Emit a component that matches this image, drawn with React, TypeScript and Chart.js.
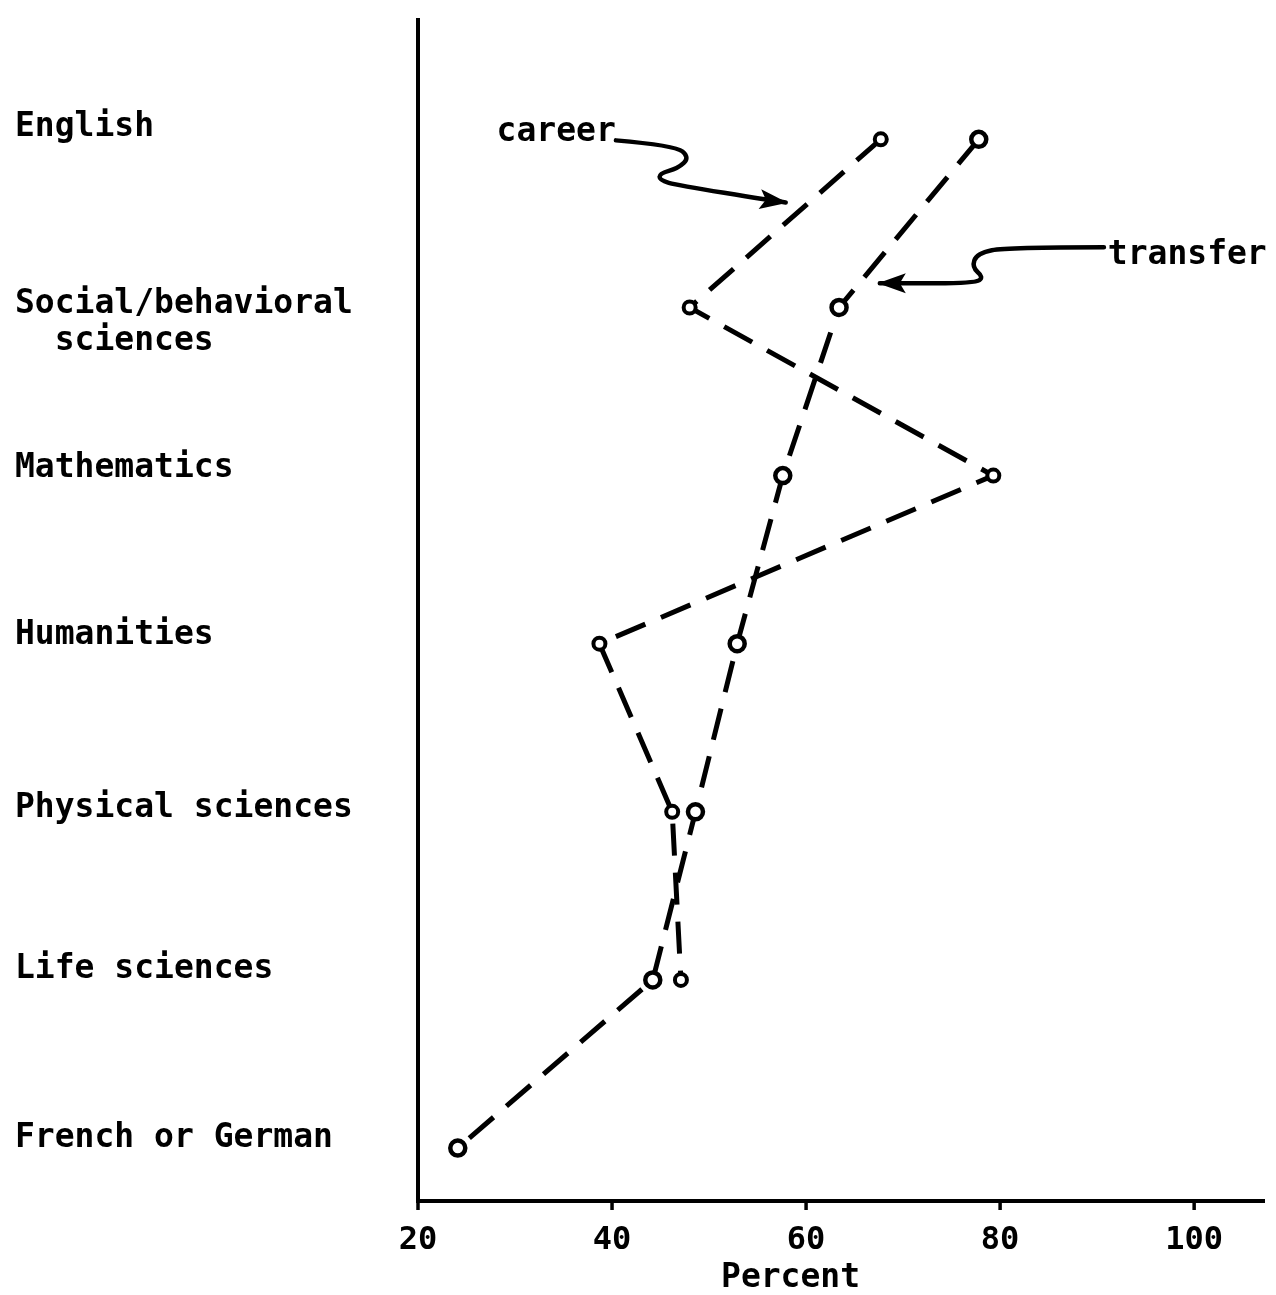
import React, { useEffect, useRef } from 'react';
import { Chart, registerables } from 'chart.js';

Chart.register(...registerables);

// ---- data ----
const CATEGORIES: (string | string[])[] = [
  'English',
  ['Social/behavioral', '  sciences'],
  'Mathematics',
  'Humanities',
  'Physical sciences',
  'Life sciences',
  'French or German',
];
const CAREER: (number | null)[] = [67.7, 48.0, 79.3, 38.7, 46.2, 47.1, null];
const TRANSFER: (number | null)[] = [77.8, 63.4, 57.6, 52.9, 48.6, 44.2, 24.1];
const X_TICKS = [20, 40, 60, 80, 100];
const X_TITLE = 'Percent';

// ---- layout / annotation config (data units) ----
const LABEL_SHIFT = [-0.07, 0.09, -0.04, -0.05, -0.02, -0.06, -0.06];
const ANNOTATIONS = [
  {
    text: 'career',
    at: [28.1, -0.042],
    path: [[40.4, 0.006], [46.5, 0.036], [48.0, 0.107], [46.8, 0.172], [44.9, 0.202], [44.9, 0.244], [46.8, 0.273], [56.3, 0.363], [57.9, 0.375]],
  },
  {
    text: 'transfer',
    at: [91.1, 0.69],
    path: [[90.7, 0.642], [80.7, 0.642], [77.6, 0.678], [77.1, 0.761], [78.3, 0.82], [77.4, 0.856], [69.4, 0.856], [67.6, 0.856]],
  },
];

const FONT = '"DejaVu Sans Mono", "Liberation Mono", monospace';

const toPoints = (vals: (number | null)[]) =>
  vals.map((v, i) => (v == null ? null : { x: v, y: i })).filter((p) => p !== null) as { x: number; y: number }[];

const annotationPlugin = {
  id: 'annotations',
  afterDatasetsDraw(chart: any) {
    const { ctx, scales } = chart;
    const xs = scales.x;
    const ys = scales.y;
    const px = (p: number[]) => [xs.getPixelForValue(p[0]), ys.getPixelForValue(p[1])];
    ctx.save();
    ctx.strokeStyle = '#000';
    ctx.fillStyle = '#000';
    ctx.lineWidth = 4.5;
    ctx.lineCap = 'round';
    ctx.lineJoin = 'round';
    for (const a of ANNOTATIONS) {
      const pts = a.path.map(px);
      const n = pts.length;
      ctx.beginPath();
      ctx.moveTo(pts[0][0], pts[0][1]);
      for (let i = 1; i < n - 2; i++) {
        const mx = (pts[i][0] + pts[i + 1][0]) / 2;
        const my = (pts[i][1] + pts[i + 1][1]) / 2;
        ctx.quadraticCurveTo(pts[i][0], pts[i][1], mx, my);
      }
      ctx.quadraticCurveTo(pts[n - 2][0], pts[n - 2][1], pts[n - 1][0], pts[n - 1][1]);
      ctx.stroke();
      const [tx, ty] = pts[n - 1];
      const [bx, by] = pts[n - 2];
      const ang = Math.atan2(ty - by, tx - bx);
      const L = 26;
      const W = 10;
      const cx = tx - L * Math.cos(ang);
      const cy = ty - L * Math.sin(ang);
      ctx.beginPath();
      ctx.moveTo(tx + 2 * Math.cos(ang), ty + 2 * Math.sin(ang));
      ctx.lineTo(cx + W * Math.sin(ang), cy - W * Math.cos(ang));
      ctx.lineTo(cx + 6 * Math.cos(ang), cy + 6 * Math.sin(ang));
      ctx.lineTo(cx - W * Math.sin(ang), cy + W * Math.cos(ang));
      ctx.closePath();
      ctx.fill();
      ctx.font = `bold 33px ${FONT}`;
      ctx.textAlign = 'left';
      ctx.textBaseline = 'middle';
      const [lx, ly] = px(a.at);
      ctx.fillText(a.text, lx, ly);
    }
    // x-axis tick marks
    const bottom = chart.chartArea.bottom;
    ctx.lineWidth = 3.5;
    ctx.lineCap = 'butt';
    for (const v of X_TICKS) {
      const xp = xs.getPixelForValue(v);
      ctx.beginPath();
      ctx.moveTo(xp, bottom);
      ctx.lineTo(xp, bottom + 9);
      ctx.stroke();
    }
    // x-axis title
    ctx.font = `bold 33px ${FONT}`;
    ctx.textAlign = 'center';
    ctx.textBaseline = 'middle';
    ctx.fillText(X_TITLE, xs.getPixelForValue(58.4), bottom + 77);
    ctx.restore();
  },
};

export default function App() {
  const ref = useRef<HTMLCanvasElement | null>(null);

  useEffect(() => {
    if (!ref.current) return;
    const chart = new Chart(ref.current, {
      type: 'line',
      data: {
        datasets: [
          {
            label: 'career',
            data: toPoints(CAREER),
            borderColor: '#000',
            borderWidth: 5,
            borderDash: [32, 17],
            pointRadius: 6,
            pointBorderWidth: 4,
            pointBorderColor: '#000',
            pointBackgroundColor: '#fff',
            fill: false,
            tension: 0,
          },
          {
            label: 'transfer',
            data: toPoints(TRANSFER),
            borderColor: '#000',
            borderWidth: 5,
            borderDash: [32, 17],
            pointRadius: 7.5,
            pointBorderWidth: 4.5,
            pointBorderColor: '#000',
            pointBackgroundColor: '#fff',
            fill: false,
            tension: 0,
          },
        ],
      },
      options: {
        animation: false,
        responsive: false,
        maintainAspectRatio: false,
        layout: { padding: { left: 15, top: 20, right: 8, bottom: 0 } },
        plugins: { legend: { display: false }, tooltip: { enabled: false } },
        scales: {
          x: {
            type: 'linear',
            min: 20,
            max: 107.2,
            afterBuildTicks: (s: any) => {
              s.ticks = X_TICKS.map((v) => ({ value: v }));
            },
            afterFit: (s: any) => {
              s.height = 94;
            },
            border: { display: true, color: '#000', width: 4 },
            grid: { display: false, drawTicks: false },
            ticks: {
              color: '#000',
              padding: 20,
              font: { family: FONT, size: 32, weight: 'bold' },
              callback: (v: any) => String(v),
            },
          },
          y: {
            type: 'linear',
            reverse: true,
            min: -0.71,
            max: 6.315,
            afterBuildTicks: (s: any) => {
              s.ticks = CATEGORIES.map((_, i) => ({ value: i + LABEL_SHIFT[i] }));
            },
            afterFit: (s: any) => {
              s.width = 403;
            },
            border: { display: true, color: '#000', width: 4 },
            grid: { display: false, drawTicks: false },
            ticks: {
              color: '#000',
              crossAlign: 'far',
              padding: 0,
              font: { family: FONT, size: 33, weight: 'bold', lineHeight: 1.12 },
              callback: (v: any) => CATEGORIES[Math.round(Number(v))] as any,
            },
          },
        },
      },
      plugins: [annotationPlugin],
    } as any);
    return () => chart.destroy();
  }, []);

  return (
    <div style={{ position: 'fixed', left: 0, top: 0, width: 1276, height: 1295, background: '#fff' }}>
      <canvas ref={ref} width={1276} height={1295} style={{ width: 1276, height: 1295, display: 'block' }} />
    </div>
  );
}
